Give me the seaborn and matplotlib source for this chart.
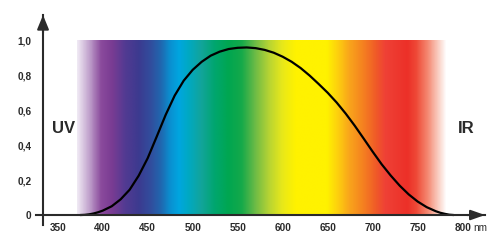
import numpy as np
import matplotlib
matplotlib.use("Agg")
import matplotlib.pyplot as plt
from matplotlib.colors import LinearSegmentedColormap, Normalize
import seaborn as sns

# ---- data ----
wavelength_nm = [375, 380, 385, 390, 395, 400, 410, 420, 430, 440, 450, 460, 470,
                 480, 490, 500, 510, 520, 530, 540, 550, 560, 570, 580, 590, 600,
                 610, 620, 630, 640, 650, 660, 670, 680, 690, 700, 710, 720, 730,
                 740, 750, 760, 770, 775, 780, 785, 790]
sensitivity = [0.0, 0.001, 0.004, 0.009, 0.016, 0.025, 0.05, 0.09, 0.145, 0.225,
               0.325, 0.448, 0.573, 0.683, 0.768, 0.83, 0.876, 0.911, 0.934, 0.949,
               0.956, 0.958, 0.954, 0.944, 0.928, 0.905, 0.876, 0.84, 0.797, 0.749,
               0.699, 0.643, 0.58, 0.511, 0.437, 0.362, 0.29, 0.226, 0.168, 0.118,
               0.077, 0.045, 0.022, 0.013, 0.007, 0.002, 0.0]

x_ticks = [350, 400, 450, 500, 550, 600, 650, 700, 750, 800]
x_tick_labels = ["350", "400", "450", "500", "550", "600", "650", "700", "750", "800"]
y_ticks = [0, 0.2, 0.4, 0.6, 0.8, 1.0]
y_tick_labels = ["0", "0,2", "0,4", "0,6", "0,8", "1,0"]

spectrum_nm = [372, 385, 398, 410, 425, 440, 455, 465, 475, 485, 495, 510, 525, 540,
               555, 570, 585, 600, 615, 650, 662, 675, 690, 705, 715, 740, 750, 762,
               773, 783]
spectrum_colors = ["#efe8f3", "#bf9fcb", "#8a4a9c", "#7a3c93", "#523a92", "#3c3a8f",
                   "#30509f", "#1f68b0", "#0a8fd0", "#00a6e0", "#00a9c4", "#12a49a",
                   "#00a66e", "#00a651", "#15a94a", "#6cbb46", "#b5d334", "#e8e81a",
                   "#fff200", "#fff200", "#fdd00e", "#f9a51b", "#f58220", "#f05a28",
                   "#ef4136", "#ec3028", "#ef4a37", "#f4866f", "#f9c6b8", "#ffffff"]

text_color = "#2a2a2a"

# ---- style ----
sns.set_style("white")
plt.rcParams["font.family"] = ["Liberation Sans", "DejaVu Sans"]

fig = plt.figure(figsize=(5.0, 2.49), dpi=100)
ax = fig.add_axes([0.072, 0.0964, 0.898, 0.843])

xlim = (325.9, 824.8)
ylim = (-0.057, 1.143)
yaxis_x = 333.7

# spectrum band
lo, hi = spectrum_nm[0], spectrum_nm[-1]
cmap = LinearSegmentedColormap.from_list(
    "spectrum",
    [((w - lo) / (hi - lo), c) for w, c in zip(spectrum_nm, spectrum_colors)])
grad = np.linspace(lo, hi, 1000).reshape(1, -1)
ax.imshow(grad, extent=[lo, hi, 0, 1.0], aspect="auto", cmap=cmap,
          norm=Normalize(lo, hi), interpolation="bilinear", zorder=1)

# curve
sns.lineplot(x=wavelength_nm, y=sensitivity, ax=ax, color="black",
             linewidth=1.6, zorder=3)

ax.set_xlim(*xlim)
ax.set_ylim(*ylim)

# axes
for s in ["top", "right"]:
    ax.spines[s].set_visible(False)
ax.spines["left"].set_position(("data", yaxis_x))
ax.spines["bottom"].set_position(("data", 0))
for s in ["left", "bottom"]:
    ax.spines[s].set_color(text_color)
    ax.spines[s].set_linewidth(1.5)
    ax.spines[s].set_zorder(4)

xtick_len, xtick_pad, label_size = 8.6, 1.8, 7.2
ax.set_xticks(x_ticks)
ax.set_xticklabels(x_tick_labels)
ax.set_yticks(y_ticks)
ax.set_yticklabels(y_tick_labels)
ax.tick_params(axis="x", direction="inout", length=xtick_len, width=1.5,
               color=text_color, labelsize=label_size, labelcolor=text_color,
               pad=xtick_pad)
ax.tick_params(axis="y", direction="inout", length=12, width=1.5,
               color=text_color, labelsize=label_size, labelcolor=text_color, pad=2.2)
for lab in ax.get_xticklabels() + ax.get_yticklabels():
    lab.set_fontweight("bold")

# arrow heads
ax.annotate("", xy=(yaxis_x, ylim[1]), xytext=(yaxis_x, ylim[1] - 0.1),
            arrowprops=dict(arrowstyle="-|>,head_length=0.85,head_width=0.35",
                            color=text_color, lw=1.5, shrinkA=0, shrinkB=0,
                            mutation_scale=10), zorder=5, annotation_clip=False)
ax.annotate("", xy=(xlim[1], 0), xytext=(xlim[1] - 20, 0),
            arrowprops=dict(arrowstyle="-|>,head_length=0.85,head_width=0.3",
                            color=text_color, lw=1.5, shrinkA=0, shrinkB=0,
                            mutation_scale=10), zorder=5, annotation_clip=False)

# texts
ax.text(343.7, 0.497, "UV", ha="left", va="center", fontsize=12,
        fontweight="bold", color=text_color)
ax.text(794.8, 0.497, "IR", ha="left", va="center", fontsize=12,
        fontweight="bold", color=text_color)
nm_trans, _, _ = ax.get_xaxis_text1_transform(xtick_pad + xtick_len / 2)
ax.text(812.3, 0, "nm", transform=nm_trans, ha="left", va="top",
        fontsize=label_size, color=text_color)

fig.savefig("out.png", dpi=100)
